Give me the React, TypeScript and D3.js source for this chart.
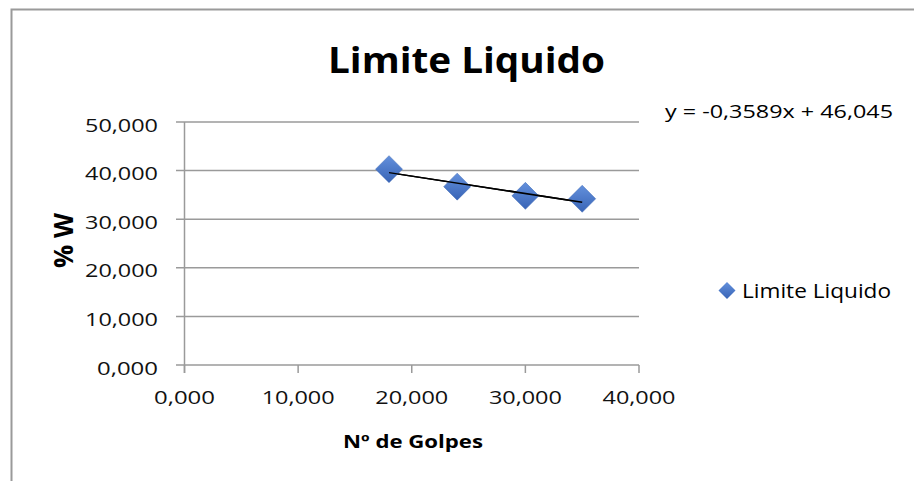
import React, { useEffect, useRef } from "react";
import * as d3 from "d3";

const golpes = [18, 24, 30, 35];
const humedad = [40.3, 36.7, 34.8, 34.2];
const xTicks = [0, 10, 20, 30, 40];
const yTicks = [0, 10, 20, 30, 40, 50];
const trendSlope = -0.3589;
const trendIntercept = 46.045;
const titleText = "Limite Liquido";
const seriesName = "Limite Liquido";
const equationText = "y = -0,3589x + 46,045";
const xTitle = "Nº de Golpes";
const yTitle = "% W";

const fmt = (v: number) => d3.format(".3f")(v).replace(".", ",");

export default function App() {
  const ref = useRef<SVGSVGElement | null>(null);

  useEffect(() => {
    const svg = d3.select(ref.current);
    svg.selectAll("*").remove();
    const font = "'Open Sans', sans-serif";

    const defs = svg.append("defs");
    const grad = defs.append("linearGradient").attr("id", "mk").attr("x1", 0).attr("y1", 0).attr("x2", 0).attr("y2", 1);
    grad.append("stop").attr("offset", "0%").attr("stop-color", "#6390dc");
    grad.append("stop").attr("offset", "100%").attr("stop-color", "#3864b6");

    // chart frame
    svg.append("rect").attr("x", 11.5).attr("y", 9.5).attr("width", 1000).attr("height", 1000)
      .attr("fill", "white").attr("stroke", "#9a9a9a").attr("stroke-width", 2);

    const x = d3.scaleLinear().domain([0, 40]).range([184.5, 639]);
    const y = d3.scaleLinear().domain([0, 50]).range([365, 122]);

    // gridlines + y ticks
    svg.append("g").selectAll("line").data(yTicks).join("line")
      .attr("x1", 176).attr("x2", x(40)).attr("y1", (d) => y(d)).attr("y2", (d) => y(d))
      .attr("stroke", "#9a9a9a").attr("stroke-width", 1.5);
    // y axis line
    svg.append("line").attr("x1", x(0)).attr("x2", x(0)).attr("y1", y(50)).attr("y2", 373)
      .attr("stroke", "#9a9a9a").attr("stroke-width", 1.5);
    // x ticks
    svg.append("g").selectAll("line").data(xTicks).join("line")
      .attr("x1", (d) => x(d)).attr("x2", (d) => x(d)).attr("y1", y(0)).attr("y2", 373)
      .attr("stroke", "#9a9a9a").attr("stroke-width", 1.5);

    // y tick labels
    svg.append("g").selectAll("text").data(yTicks).join("text")
      .attr("x", 158).attr("y", (d) => y(d) + 9.5)
      .attr("text-anchor", "end").attr("font-family", font).attr("font-size", 19).attr("fill", "#111")
      .attr("textLength", (d) => (fmt(d).length > 5 ? 73 : 61)).attr("lengthAdjust", "spacingAndGlyphs")
      .text((d) => fmt(d));
    // x tick labels
    svg.append("g").selectAll("text").data(xTicks).join("text")
      .attr("x", (d) => x(d)).attr("y", 404)
      .attr("text-anchor", "middle").attr("font-family", font).attr("font-size", 19).attr("fill", "#111")
      .attr("textLength", (d) => (fmt(d).length > 5 ? 73 : 61)).attr("lengthAdjust", "spacingAndGlyphs")
      .text((d) => fmt(d));

    // trendline
    const ext = d3.extent(golpes) as [number, number];
    svg.append("line")
      .attr("x1", x(ext[0])).attr("y1", y(trendSlope * ext[0] + trendIntercept))
      .attr("x2", x(ext[1])).attr("y2", y(trendSlope * ext[1] + trendIntercept))
      .attr("stroke", "#000").attr("stroke-width", 1.5);

    // markers
    const diamond = (cx: number, cy: number, r: number) =>
      `M${cx},${cy - r}L${cx + r},${cy}L${cx},${cy + r}L${cx - r},${cy}Z`;
    const pts = golpes.map((g, i) => [g, humedad[i]]);
    svg.append("g").selectAll("path").data(pts).join("path")
      .attr("d", (d) => diamond(x(d[0]), y(d[1]), 13.5))
      .attr("fill", "url(#mk)").attr("stroke", "#3a66b5").attr("stroke-width", 0.5);
    // put trendline over markers like reference
    svg.append("line")
      .attr("x1", x(ext[0])).attr("y1", y(trendSlope * ext[0] + trendIntercept))
      .attr("x2", x(ext[1])).attr("y2", y(trendSlope * ext[1] + trendIntercept))
      .attr("stroke", "#000").attr("stroke-width", 1.5);

    // title
    svg.append("text").attr("x", 466.5).attr("y", 73).attr("text-anchor", "middle")
      .attr("font-family", font).attr("font-weight", "bold").attr("font-size", 36).attr("fill", "#000")
      .attr("textLength", 277).attr("lengthAdjust", "spacingAndGlyphs").text(titleText);

    // equation
    svg.append("text").attr("x", 665).attr("y", 118)
      .attr("font-family", font).attr("font-size", 18.5).attr("fill", "#000")
      .attr("textLength", 228).attr("lengthAdjust", "spacingAndGlyphs").text(equationText);

    // axis titles
    svg.append("text").attr("x", 413).attr("y", 448).attr("text-anchor", "middle")
      .attr("font-family", font).attr("font-weight", "bold").attr("font-size", 18).attr("fill", "#000")
      .attr("textLength", 140).attr("lengthAdjust", "spacingAndGlyphs").text(xTitle);
    svg.append("text").attr("transform", "translate(73,240.5) rotate(-90)").attr("text-anchor", "middle")
      .attr("font-family", font).attr("font-weight", "bold").attr("font-size", 26).attr("fill", "#000")
      .attr("textLength", 55).attr("lengthAdjust", "spacingAndGlyphs").text(yTitle);

    // legend
    svg.append("path").attr("d", diamond(727, 290.5, 8.5)).attr("fill", "url(#mk)");
    svg.append("text").attr("x", 742).attr("y", 298)
      .attr("font-family", font).attr("font-size", 19.5).attr("fill", "#000")
      .attr("textLength", 149).attr("lengthAdjust", "spacingAndGlyphs").text(seriesName);
  }, []);

  return (
    <svg
      ref={ref}
      width={914}
      height={481}
      style={{ position: "absolute", left: 0, top: 0, display: "block" }}
    />
  );
}
